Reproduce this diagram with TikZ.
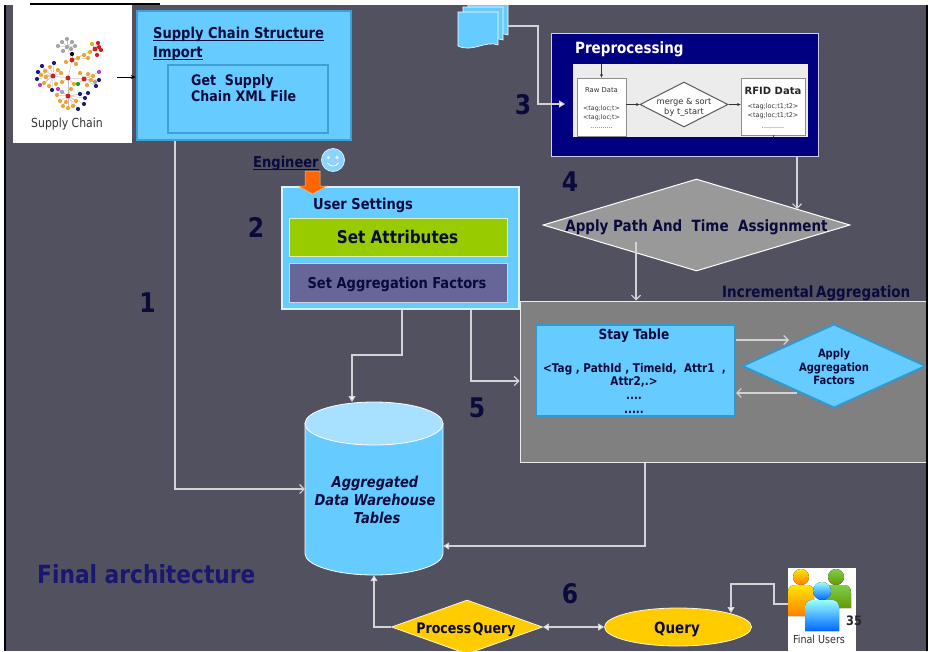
\documentclass[tikz,border=0pt]{standalone}
\usepackage{fontspec}
\setmainfont{DejaVu Sans}[FakeStretch=0.87]
\newfontfamily\widefont{DejaVu Sans}
\usetikzlibrary{shapes.geometric,arrows.meta,calc}

\definecolor{bg}{RGB}{82,81,95}
\definecolor{sky}{RGB}{102,204,255}
\definecolor{skytop}{RGB}{168,224,255}
\definecolor{skyedge}{RGB}{64,160,214}
\definecolor{stayedge}{RGB}{51,153,204}
\definecolor{ink}{RGB}{10,10,60}
\definecolor{titleblue}{RGB}{24,24,112}
\definecolor{wire}{RGB}{210,210,215}
\definecolor{leaf}{RGB}{153,204,0}
\definecolor{lav}{RGB}{102,102,153}
\definecolor{gold}{RGB}{255,204,0}
\definecolor{prenavy}{RGB}{0,0,128}
\definecolor{incgray}{RGB}{128,128,128}
\definecolor{pathgray}{RGB}{153,153,153}
\definecolor{panel}{RGB}{236,236,236}
\definecolor{scorange}{RGB}{240,165,50}
\definecolor{scred}{RGB}{210,30,30}
\definecolor{scnavy}{RGB}{30,30,120}
\definecolor{scgray}{RGB}{165,165,165}
\definecolor{scpurple}{RGB}{190,60,200}
\definecolor{scgreen}{RGB}{30,160,40}
\definecolor{engorange}{RGB}{255,102,0}
\definecolor{smiley}{RGB}{140,212,255}

\newcommand\setfs[1]{\fontsize{#1}{#1}\selectfont}
\newcommand\undl[1]{\setbox0\hbox{#1}\rlap{\rule[-2.8pt]{\wd0}{1pt}}\box0}
% #1 x, #2 head y, #3 head radius, #4 half width of body, #5 body bottom, #6 fill options
\newcommand\drawperson[6]{%
  \fill[#6] (#1-#4,#5) -- (#1-#4,#2+#3+8)
     .. controls (#1-#4,#2+#3+1) and (#1-#4+4,#2+#3) .. (#1-#4+8,#2+#3)
     -- (#1+#4-8,#2+#3)
     .. controls (#1+#4-4,#2+#3) and (#1+#4,#2+#3+1) .. (#1+#4,#2+#3+8)
     -- (#1+#4,#5) -- cycle;
  \fill[#6] (#1,#2) circle[radius=#3];
}
% dots of the supply chain network: x/y/colour/hub
\newcommand\scdots{
  62/42/scgray/h5, 67/39/scgray/h5, 72/42/scgray/h5, 63/51/scgray/h5, 71/49/scgray/h5, 58/46/scgray/h5, 75/46/scgray/h5,
  72/54/black/h1, 78/58/scorange/h1, 84/55/scorange/h1, 76/64/scorange/h1, 66/62/scorange/h1, 88/58/scorange/h1,
  98/43/scred/h6, 92/44/scorange/h6, 101/50/scred/h6, 97/55/scred/h6, 90/52/scorange/h6, 99/47/scred/h6,
  38/72/scnavy/h2, 37/79/scnavy/h2, 42/66/scnavy/h2, 45/71/scorange/h2, 46/77/scorange/h2,
  44/83/scorange/h2, 50/67/scorange/h2, 58/70/scorange/h2, 49/86/scorange/h2, 56/84/scorange/h2,
  40/85/scpurple/h2, 52/90/scnavy/h2, 61/73/scorange/h2, 41/75/scorange/h2, 54/63/scnavy/h2,
  78/84/scgreen/h3, 88/74/scorange/h3, 91/80/scorange/h3, 87/85/scorange/h3, 80/73/scorange/h3,
  99/80/scnavy/h3, 96/86/scnavy/h3, 99/72/scpurple/h3, 93/76/scorange/h3, 95/82/scgray/h3,
  57/95/scorange/h4, 60/101/scorange/h4, 63/106/scorange/h4, 68/108/scorange/h4, 73/106/scorange/h4,
  76/101/scorange/h4, 62/92/scgray/h4, 80/94/scnavy/h4, 85/98/scnavy/h4, 88/93/scnavy/h4,
  84/104/scnavy/h4, 78/109/scnavy/h4, 58/89/scpurple/h4, 71/89/scorange/h4, 66/102/scorange/h4,
  62/82/scorange/h0, 74/84/scorange/h0}

\begin{document}
\begin{tikzpicture}[x=1pt,y=-1pt,
  wire/.style={draw=wire, line width=1.1pt},
  openhead/.style={wire, -{Straight Barb[length=4.5pt,width=9pt]}},
  fillhead/.style={wire, -{Triangle[length=6pt,width=7pt,fill=white]}},
  bothhead/.style={wire, {Triangle[length=6pt,width=7pt,fill=white]}-{Triangle[length=6pt,width=7pt,fill=white]}},
  txt/.style={inner sep=0, text=ink},
  stepnum/.style={inner sep=0, text=ink, font=\setfs{27}\bfseries},
  graphline/.style={draw=scgray!70, line width=0.4pt},
  prebox/.style={fill=white, draw=black!45, line width=0.8pt, inner sep=0},
  tiny/.style={inner sep=0, text=black!80, font=\widefont\setfs{6.3}}
]
\clip (0,0) rectangle (928,651);
\fill[white] (0,0) rectangle (928,651);
\fill[bg] (6,5) rectangle (926,651);

% ---------- document stack feeding the preprocessing step ----------
\foreach \k in {2,1,0}{
  \filldraw[fill=sky, draw=white, line width=0.6pt, shift={(5*\k,-5*\k)}]
    (458,12) -- (498,12) -- (498,45) .. controls (486,40) and (472,53) .. (458,46) -- cycle;
}
\fill[white] (0,0) rectangle (928,5);
\coordinate (docout) at (508,26);

% ---------- supply chain picture ----------
\node[fill=white, inner sep=0, minimum width=119pt, minimum height=140pt] (scpic) at (72.5,73) {};
\coordinate (h0) at (68,78);
\coordinate (h1) at (72,60);
\coordinate (h2) at (53,76);
\coordinate (h3) at (84,79);
\coordinate (h4) at (68,96);
\coordinate (h5) at (67,47);
\coordinate (h6) at (95,49);
\foreach \a/\b in {h0/h1,h0/h2,h0/h3,h0/h4,h1/h5,h1/h6}{\draw[graphline] (\a) -- (\b);}
\foreach \px/\py/\pc/\ph in \scdots{\draw[graphline] (\ph) -- (\px,\py);}
\foreach \px/\py/\pc/\ph in \scdots{\fill[\pc] (\px,\py) circle[radius=2.1];}
\foreach \h in {h0,h1,h2,h3,h4,h6}{\fill[scred] (\h) circle[radius=2.4];}
\fill[scgray] (h5) circle[radius=2.1];
\node[inner sep=0, text=black!80, font=\setfs{12.5}, anchor=base] (sclabel) at (67,127) {Supply Chain};

% ---------- step 1: supply chain structure import ----------
\node[fill=sky, draw=skyedge, line width=2.5pt, minimum width=214pt, minimum height=129pt, inner sep=0] (scsi) at (244,75.5) {};
\node[fill=sky, draw=skyedge, line width=2pt, minimum width=160pt, minimum height=68pt, inner sep=0] (getxml) at (248,99) {};
\node[txt, font=\setfs{15}\bfseries, anchor=base west] (scsit1) at (153,38) {\undl{Supply Chain Structure}};
\node[txt, font=\setfs{15}\bfseries, anchor=base west] (scsit2) at (153,57) {\undl{Import}};
\node[txt, font=\setfs{14.5}\bfseries, anchor=base west] (getx1) at (191,85) {Get\ \ Supply};
\node[txt, font=\setfs{14.5}\bfseries, anchor=base west] (getx2) at (191,101) {Chain XML File};
\coordinate (scout) at (117,77);
\draw[black, line width=0.8pt, -{Stealth[length=5pt,width=4pt]}] (scout) -- (scsi.west |- scout);

% ---------- step 2: user settings ----------
\node[fill=sky, draw=white!75!sky, line width=1.2pt, minimum width=237pt, minimum height=122pt, inner sep=0] (us) at (400.5,248) {};
\node[txt, font=\setfs{15}\bfseries, anchor=base west] (ustitle) at (313,209) {User Settings};
\node[fill=leaf, draw=white!70!leaf, line width=1pt, minimum width=218pt, minimum height=38pt, inner sep=0] (attr) at (398,237) {};
\node[txt, font=\setfs{17.5}\bfseries, anchor=base] (attrtxt) at (397.5,243) {Set Attributes};
\node[fill=lav, draw=white!70!lav, line width=1pt, minimum width=218pt, minimum height=39pt, inner sep=0] (aggset) at (398,282.5) {};
\node[txt, font=\setfs{15}\bfseries, anchor=base] (aggsettxt) at (397,288) {Set Aggregation Factors};

% engineer with block arrow into the settings
\node[txt, font=\setfs{15}\bfseries, anchor=base west] (eng) at (253,167) {\undl{Engineer}};
\node[circle, fill=smiley, draw=white!60!smiley, line width=0.8pt, minimum size=23pt, inner sep=0] (smile) at (333,160) {};
\filldraw[fill=white!55!smiley, draw=white, line width=0.4pt] (328.5,157.5) circle[radius=1.4] (337,157.5) circle[radius=1.4];
\draw[white, line width=0.8pt] (327.5,163) .. controls (330.5,167) and (335.5,167) .. (338.5,163);
\filldraw[fill=engorange, draw=orange!50!white, line width=0.5pt]
  (305,171) -- (320,171) -- (320,186) -- (327,186) -- (312.5,194) -- (298,186) -- (305,186) -- cycle;

% ---------- step 3: preprocessing ----------
\node[fill=prenavy, draw=white!80!blue, line width=1pt, minimum width=267pt, minimum height=123pt, inner sep=0] (pre) at (685,94.5) {};
\node[inner sep=0, text=white, font=\setfs{15.5}\bfseries, anchor=base west] (pretitle) at (575,53) {Preprocessing};
\node[fill=panel, minimum width=235pt, minimum height=73pt, inner sep=0] (prepanel) at (690.5,100.5) {};
\node[prebox, minimum width=49pt, minimum height=58pt] (raw) at (601.5,107) {};
\node[prebox, minimum width=64pt, minimum height=57pt] (rfid) at (773,106.5) {};
\node[diamond, fill=white, draw=black!65, line width=1pt, minimum width=88pt, minimum height=45pt, aspect=1.9, inner sep=0] (merge) at (684,104.5) {};
\node[tiny, font=\widefont\setfs{6.8}, anchor=base] (rawt) at (601.5,92) {Raw Data};
\node[tiny, anchor=base] (rawa) at (601.5,110) {<tag;loc;t>};
\node[tiny, anchor=base] (rawb) at (601.5,119) {<tag;loc;t>};
\node[tiny, anchor=base] (rawc) at (601.5,128) {...........};
\node[inner sep=0, text=black!80, font=\widefont\setfs{8.3}, anchor=base] (mergea) at (684,104) {merge \& sort};
\node[inner sep=0, text=black!80, font=\widefont\setfs{8.3}, anchor=base] (mergeb) at (684,114) {by t\_start};
\node[inner sep=0, text=black!85, font=\widefont\setfs{10}\bfseries, anchor=base] (rfidt) at (773,94) {RFID Data};
\node[tiny, font=\widefont\setfs{6.5}, anchor=base] (rfida) at (773,108) {<tag;loc;t1;t2>};
\node[tiny, font=\widefont\setfs{6.5}, anchor=base] (rfidb) at (773,117) {<tag;loc;t1;t2>};
\node[tiny, anchor=base] (rfidc) at (773,128) {...........};
\draw[black!80, line width=0.6pt, -{Stealth[length=3.5pt,width=3pt]}] (raw.north |- prepanel.north) -- (raw.north);
\draw[black!80, line width=0.6pt, -{Stealth[length=3.5pt,width=3pt]}] (raw.east |- merge.west) -- (merge.west);
\draw[black!80, line width=0.6pt, -{Stealth[length=3.5pt,width=3pt]}] (merge.east) -- (rfid.west |- merge.east);
\draw[black!70, line width=0.6pt] (rfid.south) -- (rfid.south |- prepanel.south);

% ---------- step 4: path and time assignment ----------
\node[diamond, fill=pathgray, draw=white, line width=1pt, minimum width=307pt, minimum height=92pt, aspect=3.3, inner sep=0] (apath) at (696.5,225) {};
\node[txt, font=\setfs{15.5}\bfseries, anchor=base] (apathtxt) at (696.5,231) {Apply Path And\ \ Time\ \ Assignment};

% ---------- step 5: incremental aggregation ----------
\node[fill=incgray, draw=white!85!incgray, line width=1pt, minimum width=420pt, minimum height=161pt, inner sep=0] (incr) at (730,381.5) {};
\node[txt, font=\setfs{15.5}\bfseries, anchor=base west] (incrtxt) at (722,297) {Incremental\kern2.5pt Aggregation};
\node[fill=sky, draw=stayedge, line width=2pt, minimum width=199pt, minimum height=91pt, inner sep=0] (stay) at (635.5,370.5) {};
\node[txt, font=\setfs{14}\bfseries, anchor=base] (stayt) at (634,339) {Stay Table};
\node[txt, font=\setfs{12}\bfseries, anchor=base] (staya) at (634.5,372) {<Tag , PathId , TimeId,\ \ Attr1 \ ,};
\node[txt, font=\setfs{12}\bfseries, anchor=base] (stayb) at (634,385) {Attr2,.>};
\node[txt, font=\setfs{12}\bfseries, anchor=base] (stayc) at (634,399) {....};
\node[txt, font=\setfs{12}\bfseries, anchor=base] (stayd) at (634,413) {.....};
\node[diamond, fill=sky, draw=stayedge, line width=2pt, minimum width=184pt, minimum height=84pt, aspect=2.2, inner sep=0] (agg) at (834,366) {};
\node[txt, font=\setfs{11.5}\bfseries, anchor=base] (agga) at (834,357) {Apply};
\node[txt, font=\setfs{11.5}\bfseries, anchor=base] (aggb) at (834,371) {Aggregation};
\node[txt, font=\setfs{11.5}\bfseries, anchor=base] (aggc) at (834,384) {Factors};
\coordinate (aggin) at (789,340);
\coordinate (aggout) at (797,393);

% ---------- warehouse ----------
\path[fill=sky, draw=white, line width=0.8pt] (305,423.5) -- (305,553.5)
  arc[start angle=180, end angle=360, x radius=69pt, y radius=21.5pt] -- (443,423.5) -- cycle;
\filldraw[fill=skytop, draw=white, line width=0.8pt] (374,423.5) ellipse[x radius=69pt, y radius=21.5pt];
\node[inner sep=0, minimum width=138pt, minimum height=173pt] (dw) at (374,488.5) {};
\node[txt, font=\setfs{15}\bfseries\itshape, anchor=base] (dwa) at (375,487) {Aggregated};
\node[txt, font=\setfs{15}\bfseries\itshape, anchor=base] (dwb) at (375,505) {Data Warehouse};
\node[txt, font=\setfs{15}\bfseries\itshape, anchor=base] (dwc) at (377,523) {Tables};
\coordinate (dwtopin) at (352,402);

% ---------- step 6: query ----------
\node[diamond, fill=gold, draw=white!85!gold, line width=0.8pt, minimum width=151pt, minimum height=54pt, aspect=2.8, inner sep=0] (pq) at (467,627) {};
\node[txt, font=\setfs{14.5}\bfseries, anchor=base] (pqtxt) at (466,633) {Process\kern1.5pt Query};
\node[ellipse, fill=gold, draw=white!85!gold, line width=0.8pt, minimum width=147pt, minimum height=38pt, inner sep=0] (query) at (678,627) {};
\node[txt, font=\setfs{15.5}\bfseries, anchor=base] (querytxt) at (677,633) {Query};
\coordinate (qin) at (731,613);

% final users picture
\node[fill=white, minimum width=68pt, minimum height=84pt, inner sep=0] (fu) at (822,610) {};
\drawperson{801}{577}{8}{13}{616}{top color=yellow!80!orange, bottom color=orange}
\drawperson{836}{577}{8}{15}{608}{top color=green!45!olive!70!white, bottom color=olive!80!green}
\drawperson{822}{591}{9}{17}{631}{top color=cyan!40!white, bottom color=blue!60!cyan}
\node[inner sep=0, text=black!80, font=\setfs{11}, anchor=base] (futxt) at (819,643) {Final Users};
\node[inner sep=0, text=black!85, font=\setfs{13}\bfseries, anchor=base] (slideno) at (854,625) {35};

% ---------- labels ----------
\node[stepnum] (n1) at (147.5,302.5) {1};
\node[stepnum] (n2) at (256,227.5) {2};
\node[stepnum] (n3) at (523,104.5) {3};
\node[stepnum] (n4) at (570,182) {4};
\node[stepnum] (n5) at (477,408) {5};
\node[stepnum] (n6) at (570,594) {6};
\node[inner sep=0, text=titleblue, font=\setfs{25}\bfseries, anchor=base west] (final) at (37,583) {Final architecture};

% ---------- connectors ----------
\draw[openhead] (scsi.south -| 175,0) |- (dw.west |- 0,489);
\draw[fillhead] (us.south -| 402,0) |- (352,355) -- (dwtopin);
\draw[openhead] (us.south -| 471,0) |- (incr.west |- 0,381);
\draw[fillhead] (docout) -| (538,104) -- (pre.west |- 0,104) -- (565,104);
\draw[openhead] (pre.south -| 797,0) -- (797,209);
\draw[openhead] (636,242) -- (incr.north -| 636,0);
\draw[openhead] (stay.east |- aggin) -- (aggin);
\draw[openhead] (aggout) -- (stay.east |- aggout);
\draw[fillhead] (incr.south -| 645,0) |- (dw.east |- 0,546);
\draw[fillhead] (pq.west) -| (dw.south);
\draw[bothhead] (pq.east) -- (query.west);
\draw[fillhead] (fu.west |- 0,604) -| (774,584) -| (qin);

% frame edges
\draw[black, line width=2pt] (4.5,5) -- (4.5,651);
\draw[black, line width=2pt] (927,5) -- (927,651);
\draw[black, line width=1.5pt] (30,4) -- (160,4);
\end{tikzpicture}
\end{document}
